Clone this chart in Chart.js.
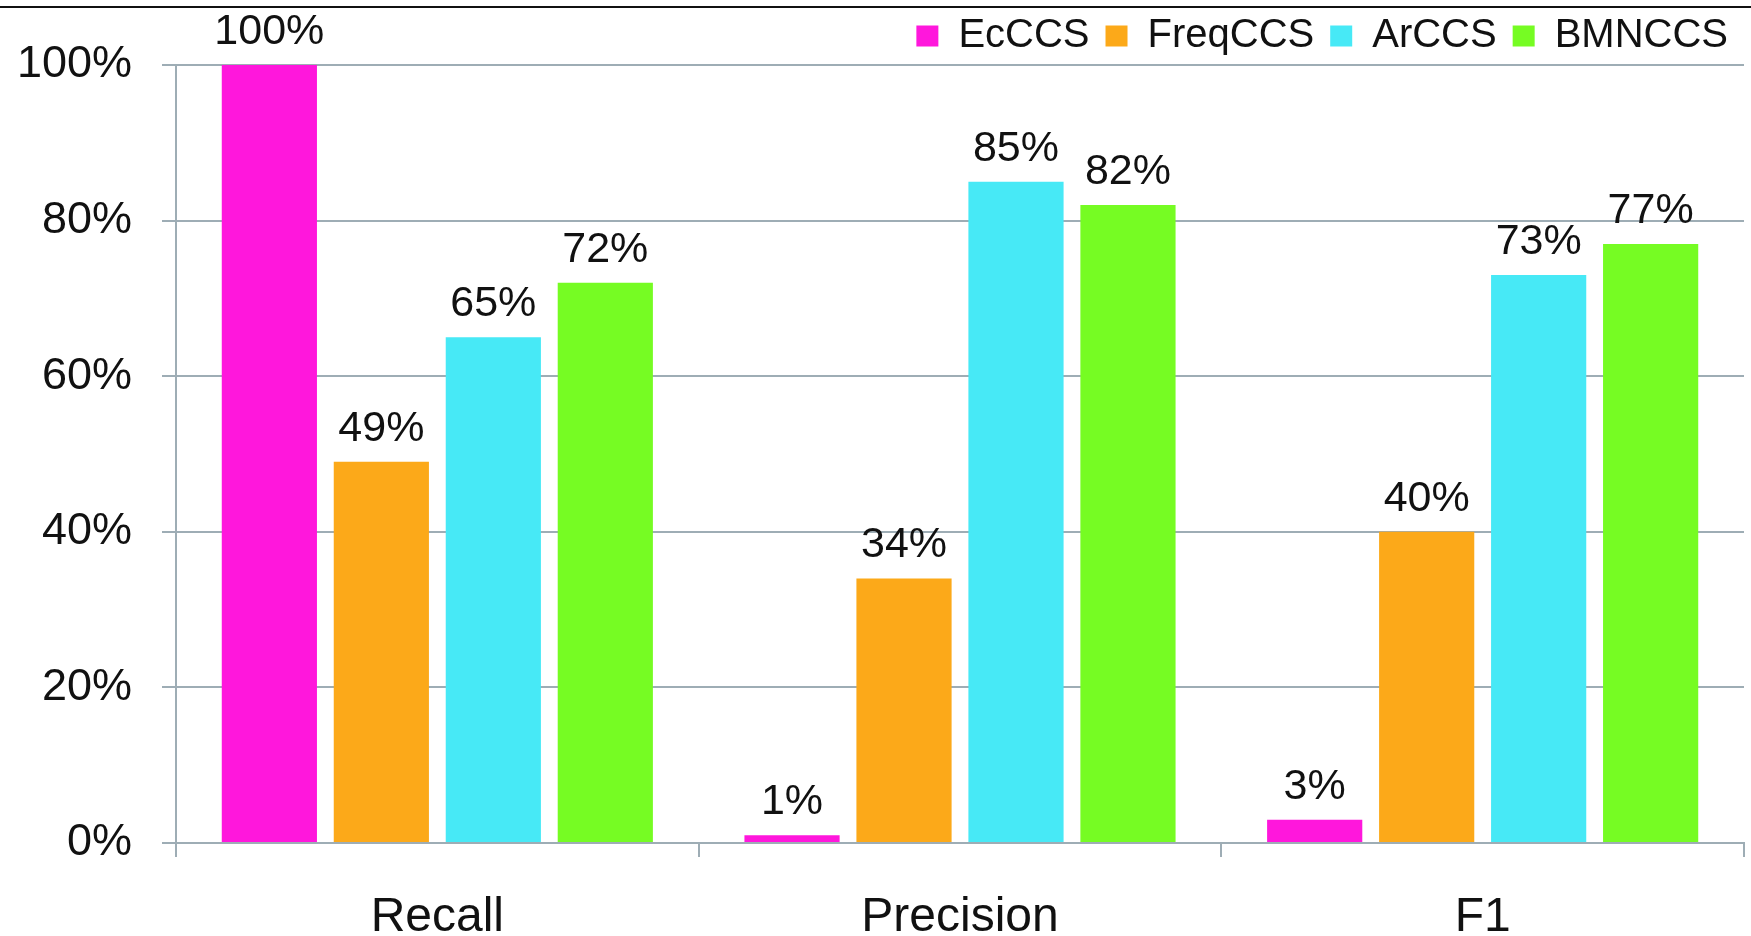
<!DOCTYPE html>
<html>
<head>
<meta charset="utf-8">
<script src="https://cdn.jsdelivr.net/npm/chart.js@4.4.1/dist/chart.umd.min.js"></script>
<style>
  html, body { margin: 0; padding: 0; background: #ffffff; }
  #wrap { width: 1751px; height: 936px; position: relative; }
</style>
</head>
<body>
<div id="wrap"><canvas id="chart"></canvas></div>
<script>
// Metric groups on the x axis
const categories = ['Recall', 'Precision', 'F1'];

// Scores (in %) for each method, one value per metric
const seriesNames = ['EcCCS', 'FreqCCS', 'ArCCS', 'BMNCCS'];
const ecccs   = [100, 1, 3];
const freqccs = [49, 34, 40];
const arccs   = [65, 85, 73];
const bmnccs  = [72, 82, 77];

// Y axis tick values
const yTicks = [0, 20, 40, 60, 80, 100];

const seriesColors = ['#ff17dc', '#fca919', '#47e9f6', '#76fc23'];
const gridColor = '#9eadb5';
const fontFamily = '"Liberation Sans", Arial, Helvetica, sans-serif';

const seriesValues = [ecccs, freqccs, arccs, bmnccs];

// Thin rule across the top of the figure
const topRule = {
  id: 'topRule',
  beforeDraw(chart) {
    const ctx = chart.ctx;
    ctx.save();
    ctx.fillStyle = '#111111';
    ctx.fillRect(0, 6, chart.width, 2);
    ctx.restore();
  }
};

// Percentage labels above each bar
const valueLabels = {
  id: 'valueLabels',
  afterDatasetsDraw(chart) {
    const ctx = chart.ctx;
    ctx.save();
    ctx.font = '43px ' + fontFamily;
    ctx.fillStyle = '#111111';
    ctx.textAlign = 'center';
    ctx.textBaseline = 'alphabetic';
    chart.data.datasets.forEach((ds, i) => {
      chart.getDatasetMeta(i).data.forEach((bar, j) => {
        ctx.fillText(ds.data[j] + '%', bar.x, bar.y - 21);
      });
    });
    ctx.restore();
  }
};

new Chart(document.getElementById('chart'), {
  type: 'bar',
  data: {
    labels: categories,
    datasets: seriesNames.map((name, i) => ({
      label: name,
      data: seriesValues[i],
      backgroundColor: seriesColors[i],
      borderWidth: 0,
      categoryPercentage: 0.857,
      barPercentage: 0.85
    }))
  },
  options: {
    responsive: true,
    maintainAspectRatio: false,
    animation: false,
    devicePixelRatio: 1,
    layout: { padding: { left: 0, right: 7, top: 0, bottom: 0 } },
    plugins: {
      tooltip: { enabled: false },
      legend: {
        position: 'top',
        align: 'end',
        maxHeight: 65,
        labels: {
          boxWidth: 22,
          boxHeight: 21,
          padding: 16,
          color: '#111111',
          font: { family: fontFamily, size: 40 }
        }
      }
    },
    scales: {
      x: {
        offset: true,
        grid: {
          offset: true,
          drawOnChartArea: false,
          drawTicks: true,
          tickLength: 14,
          color: gridColor,
          lineWidth: 2
        },
        border: { display: true, color: gridColor, width: 2 },
        ticks: {
          color: '#111111',
          padding: 32,
          font: { family: fontFamily, size: 48 }
        },
        afterFit(scale) { scale.height = 93; }
      },
      y: {
        min: 0,
        max: 100,
        afterBuildTicks(scale) { scale.ticks = yTicks.map(v => ({ value: v })); },
        grid: {
          color: gridColor,
          lineWidth: 2,
          tickLength: 14
        },
        border: { display: true, color: gridColor, width: 2 },
        ticks: {
          color: '#111111',
          padding: 30,
          font: { family: fontFamily, size: 45 },
          callback: v => v + '%'
        },
        afterFit(scale) { scale.width = 176; }
      }
    }
  },
  plugins: [topRule, valueLabels]
});
</script>
</body>
</html>
